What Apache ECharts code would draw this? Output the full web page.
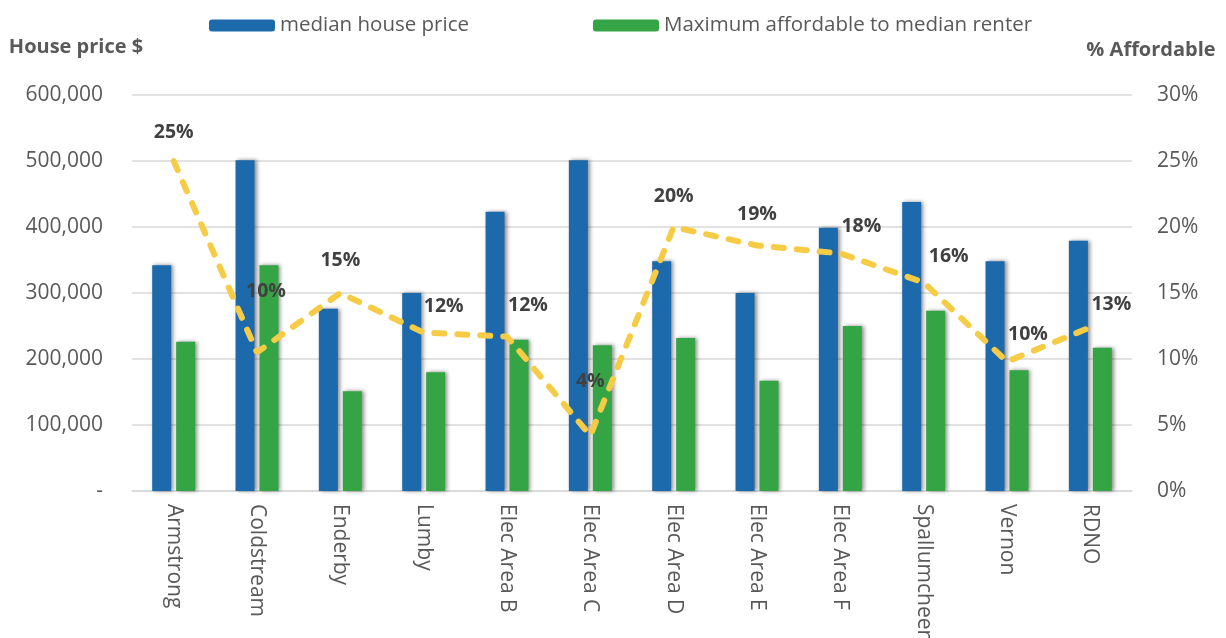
<!DOCTYPE html>
<html><head><meta charset="utf-8">
<script src="https://cdn.jsdelivr.net/npm/echarts@6/dist/echarts.min.js"></script>
<style>html,body{margin:0;padding:0;background:#fff}#c{width:1226px;height:638px}</style>
</head><body><div id="c"></div>
<script>
const categories = ['Armstrong','Coldstream','Enderby','Lumby','Elec Area B','Elec Area C','Elec Area D','Elec Area E','Elec Area F','Spallumcheen','Vernon','RDNO'];
const medianHousePrice = [342000, 501000, 276000, 300000, 423000, 501000, 348000, 300000, 399000, 438000, 348000, 379000];
const maxAffordable = [226000, 342000, 151000, 180000, 229000, 221000, 232000, 167000, 250000, 273000, 183000, 217000];
const pctAffordable = [25, 10.5, 15, 12, 11.7, 4.2, 20, 18.6, 18, 15.8, 9.8, 12.4];
const pctLabels = ['25%','10%','15%','12%','12%','4%','20%','19%','18%','16%','10%','13%'];
const leftTicks = ['-','100,000','200,000','300,000','400,000','500,000','600,000'];
const rightTicks = ['0%','5%','10%','15%','20%','25%','30%'];
// label placement (styling only)
const labelOffsets = [[0,-8],[9,-40],[0,-12],[20,-6],[21,-11],[0,-34],[0,-10],[0,-11],[21,-6],[25,-6],[21,-7],[21,-2]];

const FONT = '"Open Sans", "Liberation Sans", sans-serif';
const chart = echarts.init(document.getElementById('c'));
chart.setOption({
  animation: false,
  textStyle: {fontFamily: FONT},
  legend: {
    top: 10, left: 204, itemWidth: 66, itemHeight: 12, itemGap: 124,
    textStyle: {fontSize: 20.5, color: '#595959', fontFamily: FONT},
    data: ['median house price', 'Maximum affordable to median renter']
  },
  grid: {left: 132, right: 94, top: 95, bottom: 147, outerBoundsMode: 'none', containLabel: false},
  xAxis: {
    type: 'category', data: categories,
    axisTick: {show: false},
    axisLine: {lineStyle: {color: '#D9D9D9', width: 1.5}},
    axisLabel: {rotate: -90, fontSize: 21, color: '#595959', margin: 13, fontFamily: FONT}
  },
  yAxis: [{
    type: 'value', min: 0, max: 600000, interval: 100000,
    name: 'House price $', nameLocation: 'end', nameGap: 38,
    nameTextStyle: {fontSize: 20, fontWeight: 'bold', color: '#595959', align: 'center', padding: [0, 112, 0, 0], fontFamily: FONT},
    axisLabel: {fontSize: 21, color: '#595959', margin: 29, fontFamily: FONT, formatter: (v) => leftTicks[Math.round(v / 100000)]},
    splitLine: {lineStyle: {color: '#D9D9D9', width: 1.5}},
    axisLine: {show: false}, axisTick: {show: false}
  }, {
    type: 'value', min: 0, max: 30, interval: 5,
    name: '% Affordable', nameLocation: 'end', nameGap: 35,
    nameTextStyle: {fontSize: 20, fontWeight: 'bold', color: '#595959', align: 'center', padding: [0, 0, 0, 38], fontFamily: FONT},
    axisLabel: {fontSize: 21, color: '#595959', margin: 25, fontFamily: FONT, formatter: (v) => rightTicks[Math.round(v / 5)]},
    splitLine: {show: false}, axisLine: {show: false}, axisTick: {show: false}
  }],
  series: [{
    name: 'median house price', type: 'bar', data: medianHousePrice,
    barWidth: 19, barGap: '26%',
    itemStyle: {color: '#1C69AB', shadowBlur: 4, shadowColor: 'rgba(0,0,0,0.45)', shadowOffsetX: 2}
  }, {
    name: 'Maximum affordable to median renter', type: 'bar', data: maxAffordable,
    barWidth: 19,
    itemStyle: {color: '#34A445', shadowBlur: 4, shadowColor: 'rgba(0,0,0,0.45)', shadowOffsetX: 2}
  }, {
    name: '% Affordable', type: 'line', yAxisIndex: 1,
    data: pctAffordable.map((v, i) => ({
      value: v,
      label: {offset: labelOffsets[i]}
    })),
    symbol: 'circle', symbolSize: 1, showSymbol: true, z: 5,
    itemStyle: {color: 'rgba(0,0,0,0)'},
    lineStyle: {color: '#F6CB45', width: 6, type: [10, 13], cap: 'round'},
    label: {
      show: true, position: 'top', distance: 10,
      fontSize: 19.5, fontWeight: 'bold', color: '#404040', fontFamily: FONT,
      formatter: (p) => pctLabels[p.dataIndex]
    }
  }]
});
</script></body></html>
